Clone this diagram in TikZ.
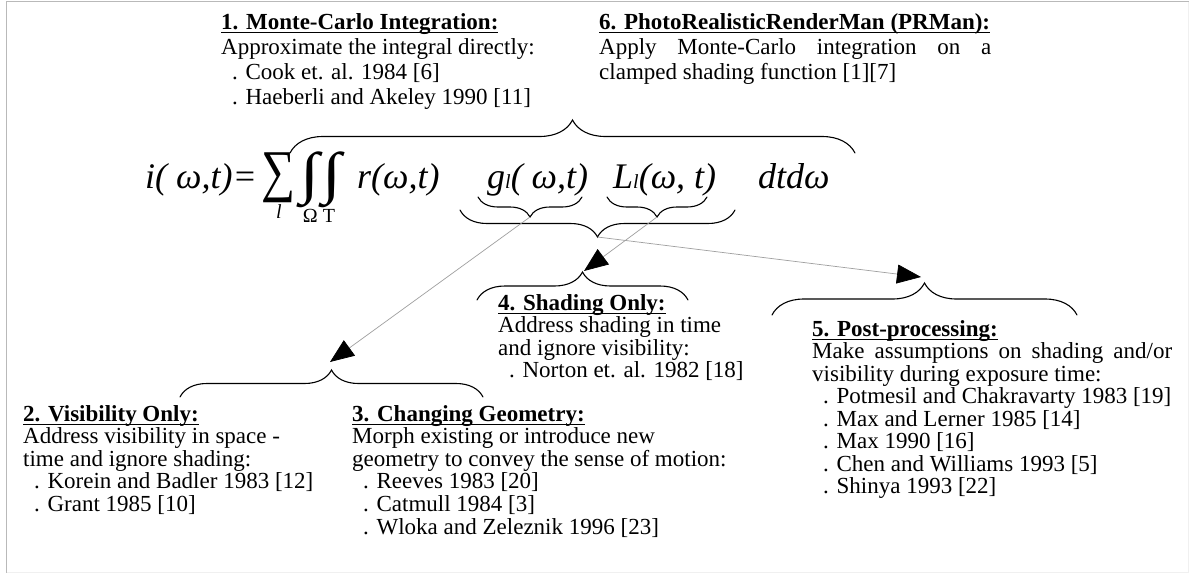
\documentclass[tikz,border=0pt]{standalone}
\usepackage{fontspec}
\setmainfont{Liberation Serif}
\usetikzlibrary{decorations.pathreplacing,arrows.meta}

% heading: bold, with a rule under it
\newsavebox{\hdbox}
\newcommand{\hd}[1]{\sbox{\hdbox}{\textbf{#1}}\rlap{\rule[-3.8pt]{\wd\hdbox}{1.3pt}}\usebox{\hdbox}}
% indent of the reference lines
\newcommand{\itm}{\hspace*{11pt}}
% small subscript l used in the formula
\newcommand{\subl}{{\fontsize{20pt}{20pt}\selectfont\itshape l}}

\tikzset{
  blk/.style={anchor=base west, inner sep=0pt, font=\fontsize{23pt}{22pt}\selectfont},
  topblk/.style={anchor=base west, inner sep=0pt, font=\fontsize{23pt}{25pt}\selectfont},
  eqn/.style={anchor=base west, inner sep=0pt, font=\fontsize{36pt}{40pt}\selectfont\itshape},
  lim/.style={anchor=center, inner sep=0pt, font=\fontsize{20pt}{20pt}\selectfont},
  brc/.style={decorate, decoration={brace, amplitude=#1}, line width=1.1pt, line cap=round},
  conn/.style={draw=gray!75, line width=0.7pt,
    -{Triangle[length=24pt, width=19pt, color=black, fill=black]}},
}

\begin{document}
\begin{tikzpicture}[x=1pt, y=-1pt]
  % page and frame
  \fill[white] (0,0) rectangle (1189,573);
  \useasboundingbox (0,0) rectangle (1189,573);
  \draw[gray!55, line width=1.4pt] (6.5,573) -- (6.5,1.5) -- (1189,1.5);
  \draw[gray!12, line width=1pt] (6.5,572.5) -- (1188.5,572.5) -- (1188.5,1.5);

  % ---- top text blocks ----
  \node[topblk] (mc) at (221,29) {\begin{tabular}[t]{@{}l@{}}
    \hd{1. Monte-Carlo Integration:}\\
    Approximate the integral directly:\\
    \itm. Cook et. al. 1984 [6]\\
    \itm. Haeberli and Akeley 1990 [11]
  \end{tabular}};
  \node[topblk] (prman) at (599,29) {\begin{tabular}[t]{@{}l@{}}
    \hd{6. PhotoRealisticRenderMan (PRMan):}\\
    \makebox[392pt][s]{Apply Monte-Carlo integration on a}\\
    clamped shading function [1][7]
  \end{tabular}};

  % ---- the formula ----
  \node[eqn] (lhs) at (145,188) {i( ω,t)=};
  \node[inner sep=0pt] (sum) at (278,178) {\resizebox*{34pt}{50pt}{∑}};
  \node[inner sep=0pt] (int) at (321,180) {\resizebox*{19pt}{56pt}{∫}\hspace{3pt}\resizebox*{19pt}{56pt}{∫}};
  \node[lim, font=\fontsize{20pt}{20pt}\selectfont\itshape] (ll) at (279,212) {l};
  \node[lim] (om) at (319,216) {Ω T};
  \node[eqn] (rr) at (357,188) {r(ω,t)};
  \node[eqn] (gl) at (487,188) {g\subl( ω,t)};
  \node[eqn] (Ll) at (613,188) {L\subl(ω, t)};
  \node[eqn] (dd) at (758,188) {dtdω};

  % ---- braces of the formula ----
  \draw[brc=33] (290,153) -- (855,153);
  \draw[brc=20] (582,197) -- (478,197);
  \draw[brc=20] (707,197) -- (607,197);
  \draw[brc=27] (735,210) -- (460,210);
  \coordinate (gtip) at (530,217);
  \coordinate (Ltip) at (657,217);
  \coordinate (btip) at (597.5,237);

  % ---- braces over the lower blocks ----
  \draw[brc=28] (477,300) -- (688,300);
  \draw[brc=27] (180,397) -- (483,397);
  \draw[brc=32] (772,315) -- (1077,315);
  \coordinate (t4) at (584,271);
  \coordinate (t23) at (330,362);
  \coordinate (t5) at (921,277);

  % ---- connectors ----
  \draw[conn] (gtip) -- (t23);
  \draw[conn] (Ltip) -- (t4);
  \draw[conn] (btip) -- (t5);

  % ---- lower text blocks ----
  \node[blk] (vis) at (23,421) {\begin{tabular}[t]{@{}l@{}}
    \hd{2. Visibility Only:}\\
    Address visibility in space -\\
    time and ignore shading:\\
    \itm. Korein and Badler 1983 [12]\\
    \itm. Grant 1985 [10]
  \end{tabular}};
  \node[blk] (geo) at (352,421) {\begin{tabular}[t]{@{}l@{}}
    \hd{3. Changing Geometry:}\\
    Morph existing or introduce new\\
    geometry to convey the sense of motion:\\
    \itm. Reeves 1983 [20]\\
    \itm. Catmull 1984 [3]\\
    \itm. Wloka and Zeleznik 1996 [23]
  \end{tabular}};
  \node[blk] (shd) at (498,310) {\begin{tabular}[t]{@{}l@{}}
    \hd{4. Shading Only:}\\
    Address shading in time\\
    and ignore visibility:\\
    \itm. Norton et. al. 1982 [18]
  \end{tabular}};
  \node[blk] (post) at (812,336) {\begin{tabular}[t]{@{}l@{}}
    \hd{5. Post-processing:}\\
    \makebox[360pt][s]{Make assumptions on shading and/or}\\
    visibility during exposure time:\\
    \itm. Potmesil and Chakravarty 1983 [19]\\
    \itm. Max and Lerner 1985 [14]\\
    \itm. Max 1990 [16]\\
    \itm. Chen and Williams 1993 [5]\\
    \itm. Shinya 1993 [22]
  \end{tabular}};
\end{tikzpicture}
\end{document}
